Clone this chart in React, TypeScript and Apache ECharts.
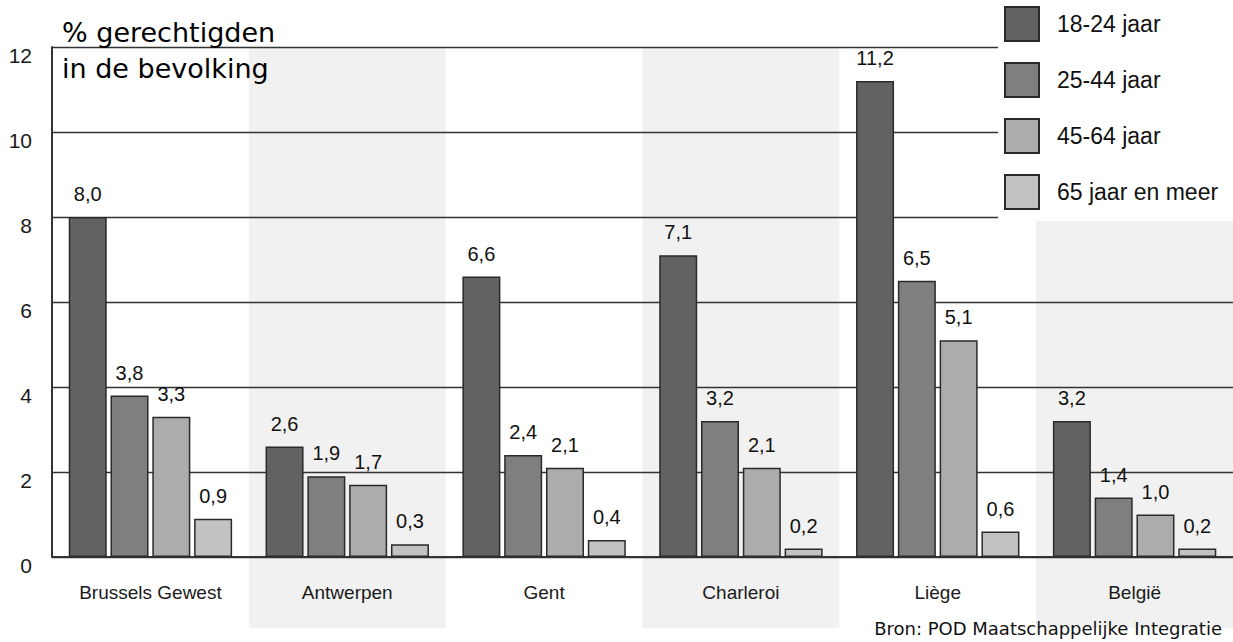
import React, { useEffect, useRef } from 'react';
import * as echarts from 'echarts';

const categories = ['Brussels Gewest', 'Antwerpen', 'Gent', 'Charleroi', 'Liège', 'België'];
const seriesNames = ['18-24 jaar', '25-44 jaar', '45-64 jaar', '65 jaar en meer'];
const age18to24 = [8.0, 2.6, 6.6, 7.1, 11.2, 3.2];
const age25to44 = [3.8, 1.9, 2.4, 3.2, 6.5, 1.4];
const age45to64 = [3.3, 1.7, 2.1, 2.1, 5.1, 1.0];
const age65plus = [0.9, 0.3, 0.4, 0.2, 0.6, 0.2];
const yMin = 0;
const yMax = 12;
const yStep = 2;
const shadedCategories = [1, 3, 5];
const titleLines = ['% gerechtigden', 'in de bevolking'];
const sourceText = 'Bron: POD Maatschappelijke Integratie';

const colors = ['#626262', '#7f7f7f', '#acacac', '#c2c2c2'];
const NARROW = '"Liberation Sans Narrow", "Arial Narrow", "Liberation Sans", Arial, sans-serif';
const SANS = '"DejaVu Sans", Verdana, sans-serif';

export default function App() {
  const ref = useRef<HTMLDivElement>(null);
  useEffect(() => {
    if (!ref.current) return;
    const chart = echarts.init(ref.current, undefined, { renderer: 'svg' });
    const allData = [age18to24, age25to44, age45to64, age65plus];
    const option: any = {
      animation: false,
      backgroundColor: '#ffffff',
      grid: { left: 52, right: 0, top: 47, bottom: 85, containLabel: false },
      legend: {
        orient: 'vertical',
        left: 1004,
        top: 6,
        padding: 0,
        itemWidth: 34,
        itemHeight: 34,
        itemGap: 20,
        icon: 'rect',
        z: 10,
        data: seriesNames,
        textStyle: { fontFamily: NARROW, fontSize: 23, color: '#111', padding: [0, 0, 0, 13] },
      },
      xAxis: {
        type: 'category',
        data: categories,
        axisLine: { show: true, lineStyle: { color: '#333', width: 2 } },
        axisTick: { show: false },
        axisLabel: { fontFamily: NARROW, fontSize: 19, color: '#1a1a1a', margin: 26, interval: 0 },
        splitLine: { show: false },
      },
      yAxis: {
        type: 'value',
        min: yMin,
        max: yMax,
        interval: yStep,
        axisLine: { show: true, lineStyle: { color: '#333', width: 2 } },
        axisTick: { show: false },
        axisLabel: {
          fontFamily: NARROW,
          fontSize: 21,
          color: '#1a1a1a',
          margin: 20,
          verticalAlign: 'top',
          padding: [-2, 0, 0, 0],
        },
        splitLine: { show: true, lineStyle: { color: '#333', width: 1.4 } },
      },
      series: seriesNames.map((name, i) => ({
        name,
        type: 'bar',
        data: allData[i],
        barWidth: 38,
        barGap: '10%',
        itemStyle: { color: colors[i], borderColor: '#2a2a2a', borderWidth: 1.5 },
        label: {
          show: true,
          position: 'top',
          distance: 13,
          fontFamily: NARROW,
          fontSize: 20,
          color: '#111',
          formatter: (p: any) => Number(p.value).toFixed(1).replace('.', ','),
        },
      })),
    };
    chart.setOption(option);

    const c0 = chart.convertToPixel({ xAxisIndex: 0 }, categories[0]) as number;
    const c1 = chart.convertToPixel({ xAxisIndex: 0 }, categories[1]) as number;
    const bw = c1 - c0;
    const yTop = chart.convertToPixel({ yAxisIndex: 0 }, yMax) as number;
    const yBase = chart.convertToPixel({ yAxisIndex: 0 }, yMin) as number;
    const graphics: any[] = shadedCategories.map((ci) => {
      const cx = chart.convertToPixel({ xAxisIndex: 0 }, categories[ci]) as number;
      return {
        type: 'rect',
        id: 'band' + ci,
        z: -10,
        silent: true,
        shape: { x: cx - bw / 2, y: yTop, width: bw, height: yBase + 71 - yTop },
        style: { fill: '#f1f1f1' },
      };
    });
    graphics.push({
      type: 'rect',
      id: 'legendBg',
      z: 3,
      silent: true,
      shape: { x: 998, y: 0, width: 240, height: 221 },
      style: { fill: '#ffffff' },
    });
    graphics.push({
      type: 'text',
      id: 'title',
      z: 20,
      left: 62,
      top: 14,
      style: {
        text: titleLines.join('\n'),
        font: `27px ${SANS}`,
        fill: '#000',
        lineHeight: 36,
      },
    });
    graphics.push({
      type: 'text',
      id: 'source',
      z: 20,
      right: 11,
      top: 619,
      style: {
        text: sourceText,
        font: `18px ${SANS}`,
        fill: '#111',
      },
    });
    chart.setOption({ graphic: graphics });

    return () => chart.dispose();
  }, []);
  return (
    <div
      ref={ref}
      style={{ position: 'fixed', left: 0, top: 0, width: 1233, height: 642 }}
    />
  );
}
